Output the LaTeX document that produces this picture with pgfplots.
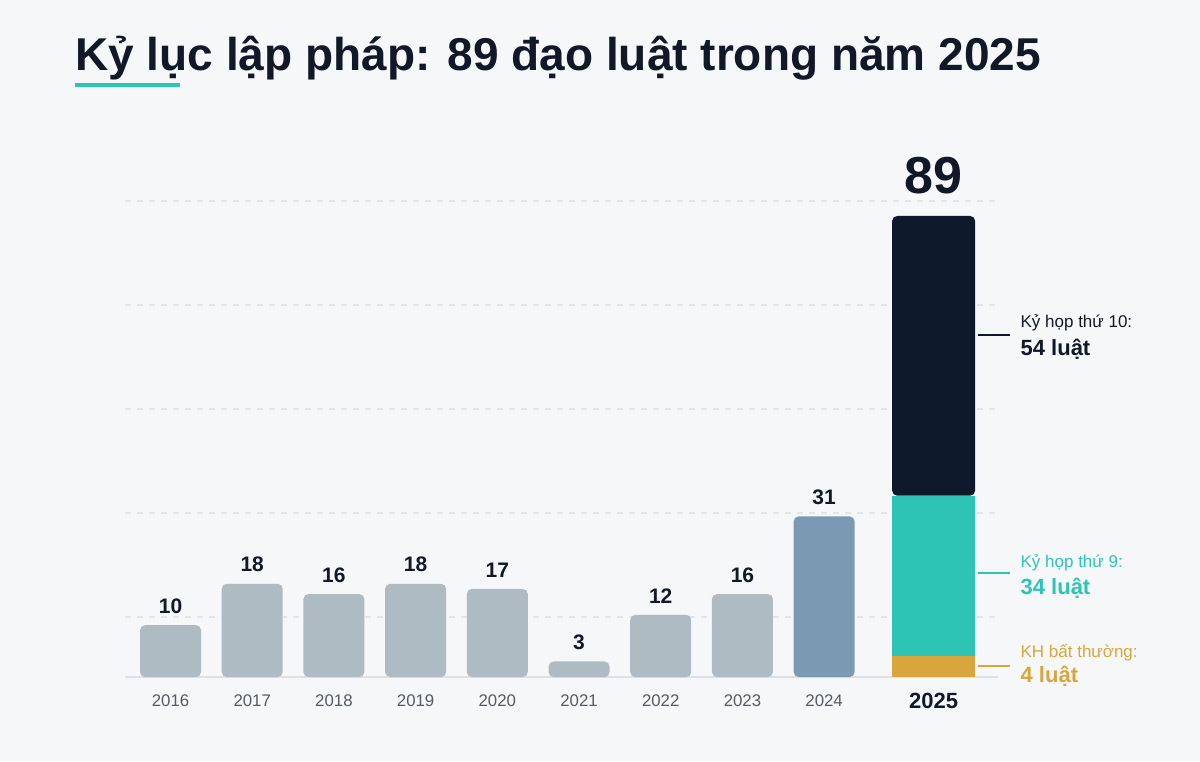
\documentclass[border=0pt]{standalone}
\usepackage{pgfplots}
\pgfplotsset{compat=1.18}
\usepackage{fontspec}
\setmainfont{Liberation Sans}
\definecolor{bgc}{HTML}{F6F7F9}
\definecolor{barg}{HTML}{AEBBC3}
\definecolor{bar24}{HTML}{7A9AB3}
\definecolor{darkc}{HTML}{0E1A2B}
\definecolor{tealc}{HTML}{2EC4B4}
\definecolor{goldc}{HTML}{D8A63C}
\definecolor{gridc}{HTML}{E3E5E9}
\definecolor{basec}{HTML}{DDE0E4}
\definecolor{yearc}{HTML}{555B63}
\definecolor{txt}{HTML}{111827}
\begin{document}
\begin{tikzpicture}
\path[use as bounding box, fill=bgc] (0,0) rectangle (600pt,-380.5pt);
% title
\node[anchor=base west, inner sep=0pt, text=txt, font=\fontsize{23}{27}\selectfont\bfseries] at (37.5pt,-35pt) {Kỷ lục lập pháp: 89 đạo luật trong năm 2025};
\fill[tealc] (37.5pt,-41.5pt) rectangle (90pt,-43.5pt);
\pgfplotsset{myaxis/.style={
  at={(62.5pt,-338.5pt)}, anchor=south west, scale only axis,
  width=436.5pt, height=259pt,
  xmin=-0.557, xmax=10.128, ymin=0, ymax=100, clip=false,
  /pgf/number format/assume math mode=true}}
\begin{axis}[myaxis,
  axis x line*=bottom, axis y line*=left,
  y axis line style={draw=none},
  x axis line style={draw=basec, line width=1pt, -},
  ytick={11.6,31.7,51.7,71.8,91.9}, yticklabels={},
  ymajorgrids, major grid style={draw=gridc, dash pattern=on 3pt off 3pt, line width=0.8pt},
  xtick={0,1,2,3,4,5,6,7,8,9.34},
  xticklabels={2016,2017,2018,2019,2020,2021,2022,2023,2024,{\fontsize{11}{13}\selectfont\bfseries\color{txt}2025}},
  major tick length=0pt,
  xticklabel style={anchor=center, yshift=-12pt, text=yearc, font=\fontsize{8.4}{10}\selectfont},
  ybar, bar width=30.5pt, bar shift=0pt,
  nodes near coords,
  every node near coord/.append style={anchor=center, yshift=9.5pt, text=txt, font=\fontsize{10.5}{12}\selectfont\bfseries},
]
\addplot[fill=barg, draw=none, rounded corners=2.5pt] coordinates {(0,10)(1,18)(2,16)(3,18)(4,17)(5,3)(6,12)(7,16)};
\addplot[fill=bar24, draw=none, rounded corners=2.5pt] coordinates {(8,31)};
\end{axis}
\begin{axis}[myaxis, hide axis, ybar stacked, bar width=41.5pt]
\addplot[fill=goldc, draw=none] coordinates {(9.34,4)};
\addplot[fill=tealc, draw=none] coordinates {(9.34,31)};
\addplot[fill=darkc, draw=none, rounded corners=2.5pt] coordinates {(9.34,54)};
\node[text=txt, font=\fontsize{26}{30}\selectfont\bfseries] at (axis cs:9.34,89) [yshift=20pt] {89};
% annotations
\draw[darkc, line width=0.8pt] (axis cs:9.884,66.0) -- (axis cs:10.275,66.0);
\node[anchor=west, inner sep=0pt, text=txt, font=\fontsize{8.5}{10}\selectfont] at (axis cs:10.40,68.3) {Kỷ họp thứ 10:};
\node[anchor=west, inner sep=0pt, text=txt, font=\fontsize{11}{13}\selectfont\bfseries] at (axis cs:10.40,63.3) {54 luật};
\draw[tealc, line width=0.8pt] (axis cs:9.884,20.1) -- (axis cs:10.275,20.1);
\node[anchor=west, inner sep=0pt, text=tealc, font=\fontsize{8.5}{10}\selectfont] at (axis cs:10.40,22.0) {Kỷ họp thứ 9:};
\node[anchor=west, inner sep=0pt, text=tealc, font=\fontsize{11}{13}\selectfont\bfseries] at (axis cs:10.40,17.2) {34 luật};
\draw[goldc, line width=0.8pt] (axis cs:9.884,2.1) -- (axis cs:10.275,2.1);
\node[anchor=west, inner sep=0pt, text=goldc, font=\fontsize{8.5}{10}\selectfont] at (axis cs:10.40,4.6) {KH bất thường:};
\node[anchor=west, inner sep=0pt, text=goldc, font=\fontsize{11}{13}\selectfont\bfseries] at (axis cs:10.40,0.2) {4 luật};
\end{axis}
\end{tikzpicture}
\end{document}
